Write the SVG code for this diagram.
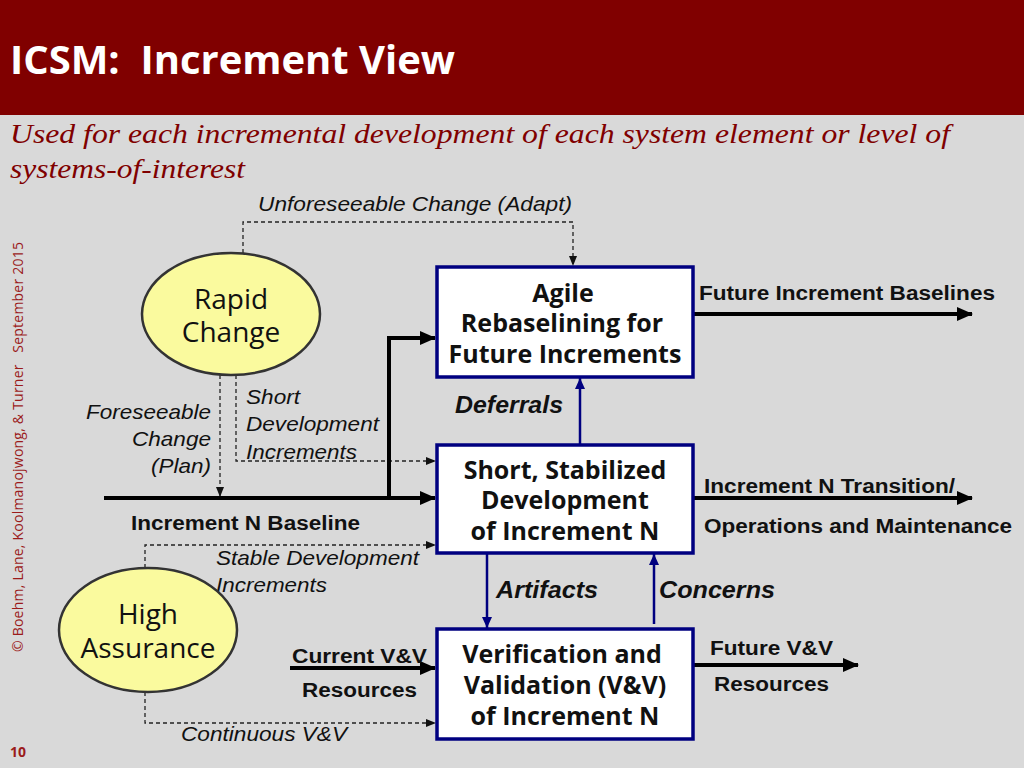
<svg xmlns="http://www.w3.org/2000/svg" width="1024" height="768" viewBox="0 0 1024 768">
<defs>
<style>
.box{fill:#fff;stroke:#000080;stroke-width:3.5}
.ell{fill:#fafa9e;stroke:#333;stroke-width:2.5}
.bt{font-family:"Open Sans","Noto Sans",sans-serif;font-weight:bold;font-size:25px;fill:#111;text-anchor:middle}
.et{font-family:"Open Sans","Noto Sans",sans-serif;font-size:28px;fill:#111;text-anchor:middle}
.il{font-family:"Liberation Sans",Arial,sans-serif;font-style:italic;font-size:21px;fill:#111}
.bl{font-family:"Liberation Sans",Arial,sans-serif;font-weight:bold;font-size:20px;fill:#111}
.bil{font-family:"Liberation Sans",Arial,sans-serif;font-weight:bold;font-style:italic;font-size:23px;fill:#111}
.dash{fill:none;stroke:#222;stroke-width:1.3;stroke-dasharray:4 3}
.thick{fill:none;stroke:#000;stroke-width:4}
.navy{fill:none;stroke:#000080;stroke-width:2.5}
</style>
<marker id="ah" markerWidth="10" markerHeight="8" refX="9" refY="4" orient="auto" markerUnits="userSpaceOnUse"><path d="M0,0 L10,4 L0,8 Z" fill="#111"/></marker>
<marker id="aht" markerWidth="16" markerHeight="14" refX="15" refY="7" orient="auto" markerUnits="userSpaceOnUse"><path d="M0,0 L16,7 L0,14 Z" fill="#000"/></marker>
<marker id="ahn" markerWidth="12" markerHeight="12" refX="11" refY="5" orient="auto" markerUnits="userSpaceOnUse"><path d="M0,0 L11,5 L0,10 Z" fill="#000080"/></marker>
</defs>
<rect x="0" y="0" width="1024" height="768" fill="#d9d9d9"/>
<rect x="0" y="0" width="1024" height="115" fill="#800000"/>
<text x="10" y="74" font-family="Open Sans, Noto Sans, sans-serif" font-weight="bold" font-size="40" fill="#fff" xml:space="preserve" textLength="445" lengthAdjust="spacingAndGlyphs">ICSM:  Increment View</text>
<text x="10" y="143" font-family="Liberation Serif, serif" font-style="italic" font-size="28" fill="#800000" textLength="940" lengthAdjust="spacingAndGlyphs">Used for each incremental development of each system element or level of</text>
<text x="10" y="178" font-family="Liberation Serif, serif" font-style="italic" font-size="28" fill="#800000" textLength="235" lengthAdjust="spacingAndGlyphs">systems-of-interest</text>
<text transform="translate(23,652) rotate(-90)" font-family="Open Sans, Noto Sans, sans-serif" font-size="14" fill="#9b1b1b" xml:space="preserve" textLength="410">© Boehm, Lane, Koolmanojwong, &amp; Turner   September 2015</text>
<text x="10" y="757" font-family="Open Sans, Noto Sans, sans-serif" font-weight="bold" font-size="14" fill="#9b1b1b">10</text>

<g id="connectors">
<path class="dash" d="M243,253 V222 H573 V265" marker-end="url(#ah)"/>
<path class="dash" d="M220,375 V496" marker-end="url(#ah)"/>
<path class="dash" d="M236,375 V461 H435" marker-end="url(#ah)"/>
<path class="dash" d="M145,568 V545 H435" marker-end="url(#ah)"/>
<path class="dash" d="M145,692 V723 H435" marker-end="url(#ah)"/>
<path class="thick" d="M104,498 H435" marker-end="url(#aht)"/>
<path class="thick" d="M389,498 V338 H435" marker-end="url(#aht)"/>
<path class="thick" d="M693,314 H972" marker-end="url(#aht)"/>
<path class="thick" d="M693,498 H972" marker-end="url(#aht)"/>
<path class="thick" d="M693,665 H858" marker-end="url(#aht)"/>
<path class="thick" d="M290,668 H435" marker-end="url(#aht)"/>
<path class="navy" d="M580,445 V378" marker-end="url(#ahn)"/>
<path class="navy" d="M487,553 V628" marker-end="url(#ahn)"/>
<path class="navy" d="M654,624 V554" marker-end="url(#ahn)"/>
<text class="il" x="258" y="211" textLength="314" lengthAdjust="spacingAndGlyphs">Unforeseeable Change (Adapt)</text>
<text class="il" x="86" y="419" textLength="125" lengthAdjust="spacingAndGlyphs">Foreseeable</text>
<text class="il" x="132" y="446" textLength="79" lengthAdjust="spacingAndGlyphs">Change</text>
<text class="il" x="151" y="473" textLength="60" lengthAdjust="spacingAndGlyphs">(Plan)</text>
<text class="il" x="246" y="404" textLength="54" lengthAdjust="spacingAndGlyphs">Short</text>
<text class="il" x="246" y="431" textLength="133" lengthAdjust="spacingAndGlyphs">Development</text>
<text class="il" x="246" y="459" textLength="111" lengthAdjust="spacingAndGlyphs">Increments</text>
<text class="il" x="216" y="565" textLength="203" lengthAdjust="spacingAndGlyphs">Stable Development</text>
<text class="il" x="216" y="592" textLength="111" lengthAdjust="spacingAndGlyphs">Increments</text>
<text class="il" x="181" y="741" textLength="166" lengthAdjust="spacingAndGlyphs">Continuous V&amp;V</text>
<text class="bl" x="131" y="530" textLength="229" lengthAdjust="spacingAndGlyphs">Increment N Baseline</text>
<text class="bl" x="699" y="300" textLength="296" lengthAdjust="spacingAndGlyphs">Future Increment Baselines</text>
<text class="bl" x="704" y="493" textLength="251" lengthAdjust="spacingAndGlyphs">Increment N Transition/</text>
<text class="bl" x="704" y="533" textLength="308" lengthAdjust="spacingAndGlyphs">Operations and Maintenance</text>
<text class="bl" x="710" y="655" textLength="123" lengthAdjust="spacingAndGlyphs">Future V&amp;V</text>
<text class="bl" x="714" y="691" textLength="115" lengthAdjust="spacingAndGlyphs">Resources</text>
<text class="bl" x="292" y="663" textLength="135" lengthAdjust="spacingAndGlyphs">Current V&amp;V</text>
<text class="bl" x="302" y="697" textLength="115" lengthAdjust="spacingAndGlyphs">Resources</text>
<text class="bil" x="455" y="413" textLength="108" lengthAdjust="spacingAndGlyphs">Deferrals</text>
<text class="bil" x="496" y="598" textLength="102" lengthAdjust="spacingAndGlyphs">Artifacts</text>
<text class="bil" x="659" y="598" textLength="116" lengthAdjust="spacingAndGlyphs">Concerns</text>
</g>

<g id="rapid-change">
<ellipse class="ell" cx="231" cy="314" rx="89" ry="61"/>
<text class="et" x="231" y="309">Rapid</text>
<text class="et" x="231" y="342">Change</text>
</g>
<g id="high-assurance">
<ellipse class="ell" cx="148" cy="630" rx="89" ry="62"/>
<text class="et" x="148" y="624">High</text>
<text class="et" x="148" y="658">Assurance</text>
</g>
<g id="agile">
<rect class="box" x="437" y="267" width="256" height="110"/>
<text class="bt" x="563" y="302">Agile</text>
<text class="bt" x="562" y="332">Rebaselining for</text>
<text class="bt" x="565" y="363">Future Increments</text>
</g>
<g id="short">
<rect class="box" x="437" y="445" width="256" height="108"/>
<text class="bt" x="565" y="479">Short, Stabilized</text>
<text class="bt" x="565" y="509">Development</text>
<text class="bt" x="565" y="540">of Increment N</text>
</g>
<g id="vv">
<rect class="box" x="437" y="629" width="256" height="110"/>
<text class="bt" x="562" y="663">Verification and</text>
<text class="bt" x="565" y="694">Validation (V&amp;V)</text>
<text class="bt" x="565" y="725">of Increment N</text>
</g>
</svg>
